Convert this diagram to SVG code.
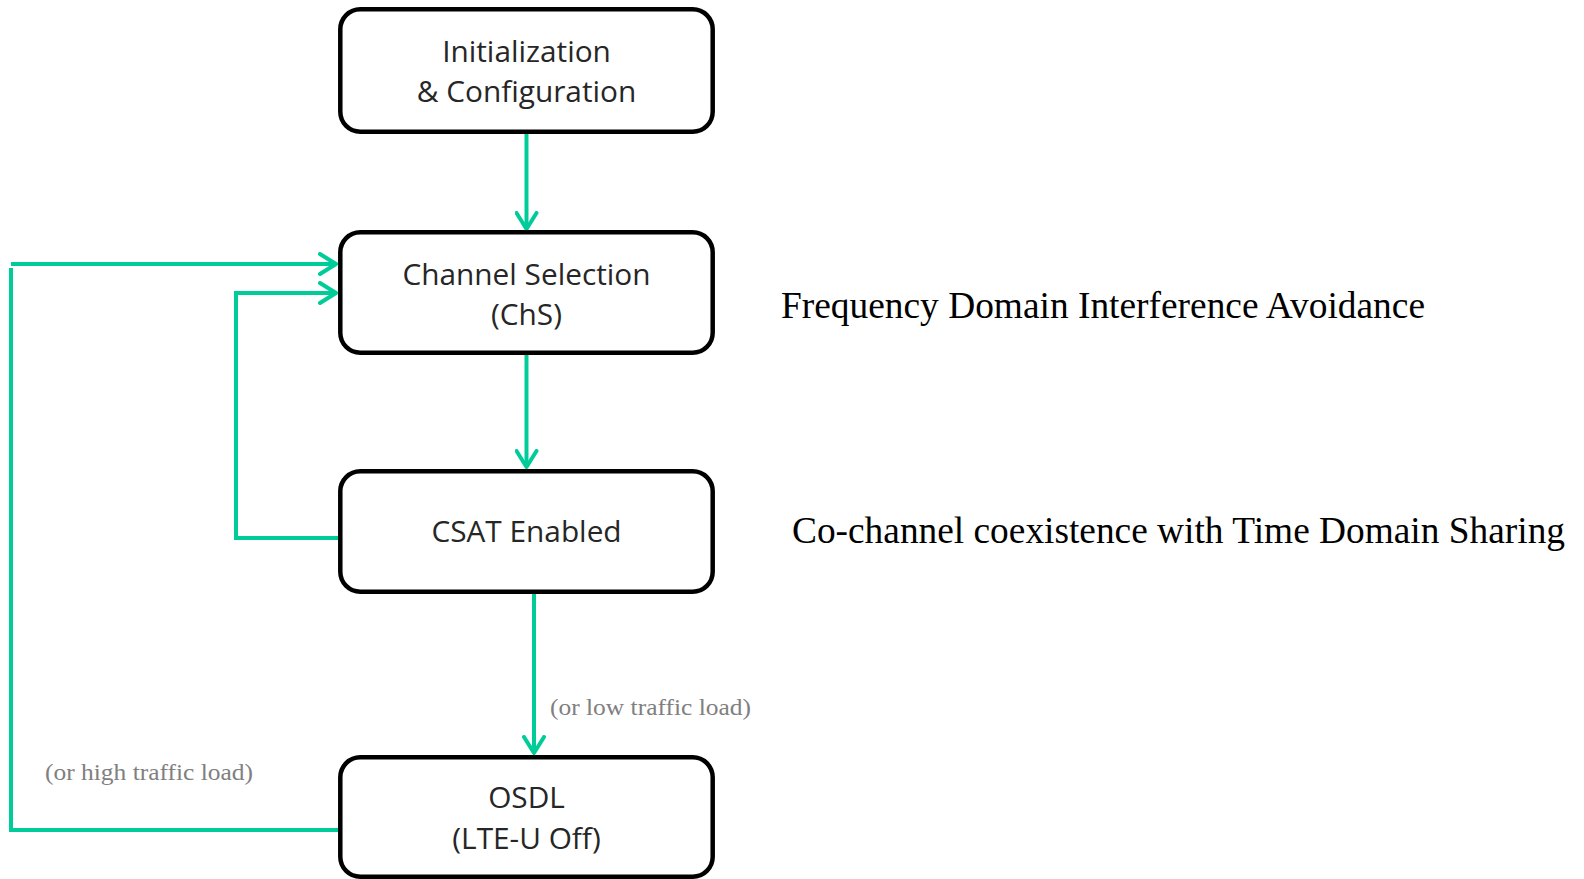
<svg xmlns="http://www.w3.org/2000/svg" width="1584" height="879" viewBox="0 0 1584 879">
<defs>
<style>
.box{fill:#fff;stroke:#000;stroke-width:4.5}
.bt{font-family:"Open Sans","Noto Sans",sans-serif;font-size:29.8px;fill:#262626;text-anchor:middle}
.cn{fill:none;stroke:#00CC99;stroke-width:4;stroke-linejoin:miter}
.lbl{font-family:"Liberation Serif","Times New Roman",serif;font-size:23px;fill:#808080}
.side{font-family:"Liberation Serif","Times New Roman",serif;font-size:37px;fill:#000}
</style>
<marker id="ah" viewBox="0 0 20 24" refX="18" refY="12" markerWidth="20" markerHeight="24" markerUnits="userSpaceOnUse" orient="auto">
<path d="M2,2 L18,12 L2,22" fill="none" stroke="#00CC99" stroke-width="4" stroke-linecap="round" stroke-linejoin="round"/>
</marker>
</defs>
<rect width="1584" height="879" fill="#fff"/>
<g id="connectors">
<path class="cn" d="M526.5,133 V229" marker-end="url(#ah)"/>
<path class="cn" d="M526.5,355 V467" marker-end="url(#ah)"/>
<path class="cn" d="M534,594 V753" marker-end="url(#ah)"/>
<path class="cn" d="M338,538 H236 V293 H336" marker-end="url(#ah)"/>
<path class="cn" d="M338,830 H11 V268"/>
<path class="cn" d="M11,264 H336" marker-end="url(#ah)"/>
</g>
<g id="n1">
<rect class="box" x="340.3" y="9.3" width="372.4" height="122.4" rx="20"/>
<text class="bt" x="526.5" y="62">Initialization</text>
<text class="bt" x="526.5" y="102">&amp; Configuration</text>
</g>
<g id="n2">
<rect class="box" x="340.3" y="232.3" width="372.4" height="120.4" rx="20"/>
<text class="bt" x="526.5" y="285">Channel Selection</text>
<text class="bt" x="526.5" y="325">(ChS)</text>
</g>
<g id="n3">
<rect class="box" x="340.3" y="471.3" width="372.4" height="120.4" rx="20"/>
<text class="bt" x="526.5" y="542">CSAT Enabled</text>
</g>
<g id="n4">
<rect class="box" x="340.3" y="757.3" width="372.4" height="119.4" rx="20"/>
<text class="bt" x="526.5" y="808">OSDL</text>
<text class="bt" x="526.5" y="849">(LTE-U Off)</text>
</g>
<g id="labels">
<text class="lbl" x="550" y="715" textLength="201" lengthAdjust="spacingAndGlyphs">(or low traffic load)</text>
<text class="lbl" x="45" y="780" textLength="208" lengthAdjust="spacingAndGlyphs">(or high traffic load)</text>
<text class="side" x="781" y="318" textLength="644" lengthAdjust="spacingAndGlyphs">Frequency Domain Interference Avoidance</text>
<text class="side" x="792" y="543" textLength="773" lengthAdjust="spacingAndGlyphs">Co-channel coexistence with Time Domain Sharing</text>
</g>
</svg>
